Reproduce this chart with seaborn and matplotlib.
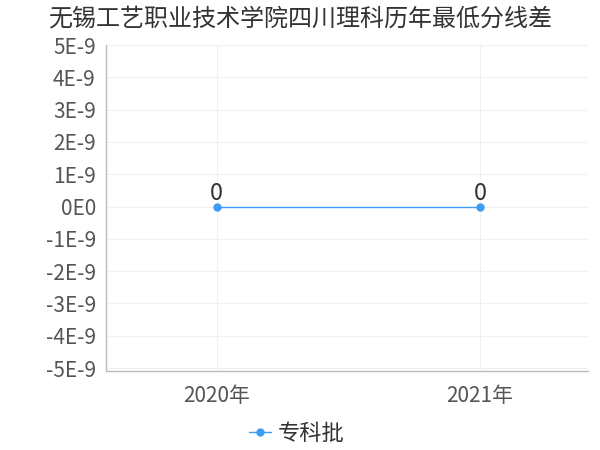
import matplotlib
matplotlib.use('Agg')
import matplotlib.pyplot as plt
import seaborn as sns
import pandas as pd

years = ['2020年', '2021年']
diffs = [0, 0]
series = '专科批'
yticks = [5e-9, 4e-9, 3e-9, 2e-9, 1e-9, 0, -1e-9, -2e-9, -3e-9, -4e-9, -5e-9]
ytick_labels = ['5E-9', '4E-9', '3E-9', '2E-9', '1E-9', '0E0',
                '-1E-9', '-2E-9', '-3E-9', '-4E-9', '-5E-9']

sns.set_style('white')
plt.rcParams['font.family'] = ['Noto Sans CJK SC', 'DejaVu Sans']

df = pd.DataFrame({'year': years, 'diff': diffs, 'batch': series})
df['x'] = range(len(years))

fig = plt.figure(figsize=(6, 4.5), dpi=100)
ax = fig.add_axes([0.177, 0.175, 0.803, 0.725])

color = '#3d9df5'
sns.lineplot(data=df, x='x', y='diff', hue='batch', palette=[color],
             marker='o', markersize=6, markeredgewidth=0, linewidth=1,
             ax=ax)

for xi, v in zip(df['x'], df['diff']):
    ax.annotate(str(v), (xi, v), xytext=(0, 1), textcoords='offset points',
                ha='center', va='bottom', fontsize=17, color='#333333')

ax.set_xlim(-0.42, 1.41)
ax.set_ylim(-5.1e-9, 5e-9)
ax.set_xticks(df['x'])
ax.set_xticklabels(years)
ax.set_yticks(yticks)
ax.set_yticklabels(ytick_labels)
ax.tick_params(axis='both', labelsize=15, colors='#555555', length=4, width=0.8,
               color='#bbbbbb')
ax.tick_params(axis='x', pad=6)
ax.set_xlabel('')
ax.set_ylabel('')
ax.grid(True, color='#f0f0f0', linewidth=0.8)
for s in ['top', 'right']:
    ax.spines[s].set_visible(False)
for s in ['left', 'bottom']:
    ax.spines[s].set_color('#bbbbbb')
    ax.spines[s].set_linewidth(1)

ax.legend(loc='upper center', bbox_to_anchor=(0.395, -0.095), frameon=False,
          fontsize=16, handlelength=1.0, handletextpad=0.3,
          labelcolor='#333333')

fig.text(0.08, 0.96, '无锡工艺职业技术学院四川理科历年最低分线差', fontsize=17.3,
         color='#333333', ha='left', va='center')

fig.savefig('out.png', dpi=100)
